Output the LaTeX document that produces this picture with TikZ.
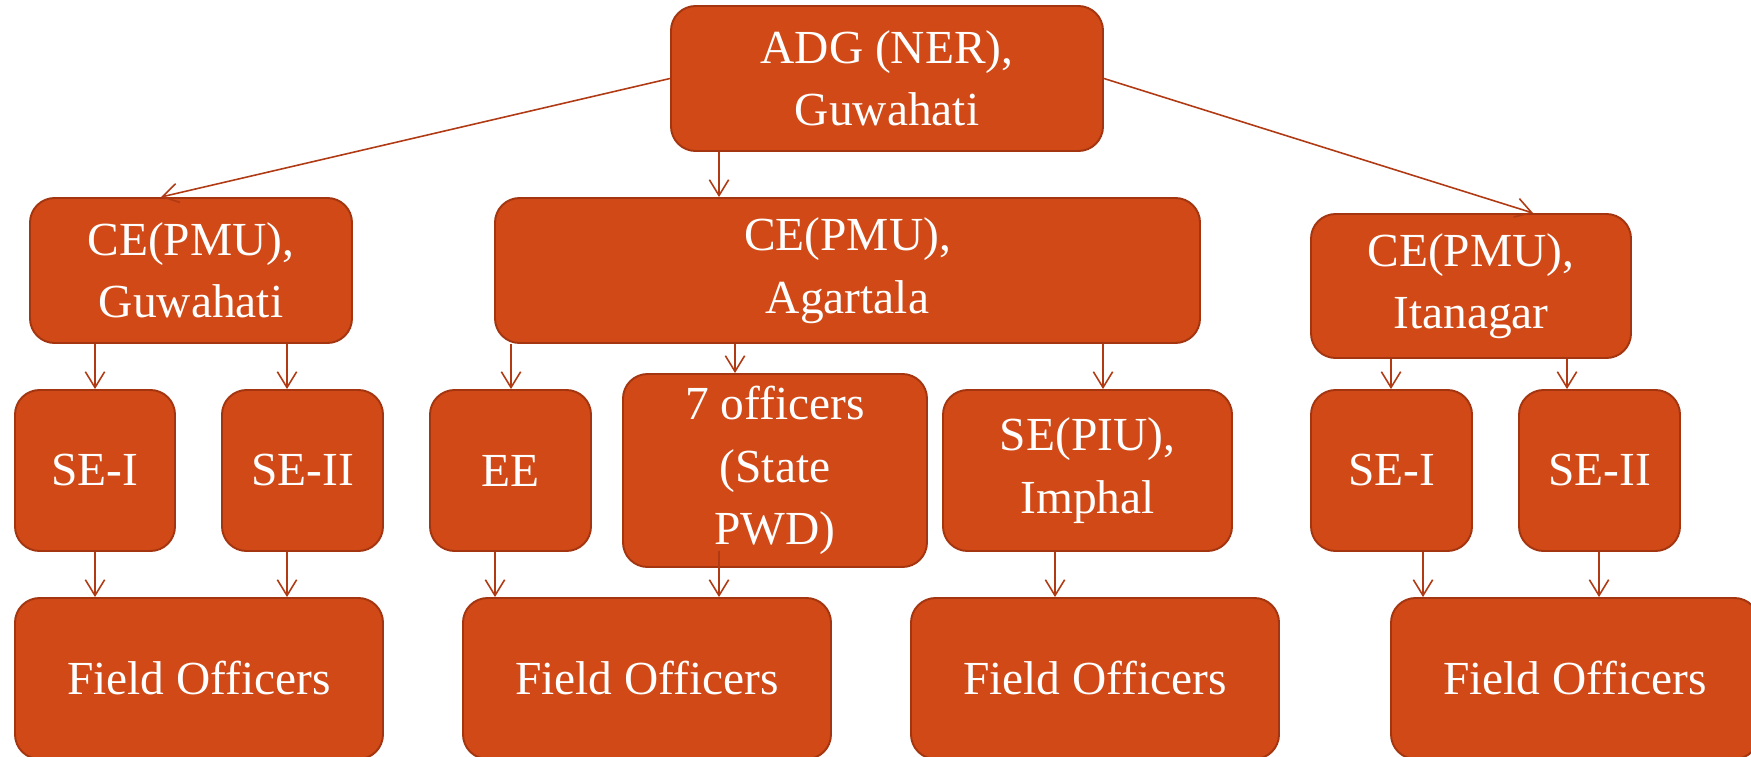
\documentclass[tikz,border=0pt]{standalone}
\usepackage{fontspec}
\setmainfont{Liberation Serif}
\usepackage{tikz}
\usetikzlibrary{arrows.meta,calc}
\definecolor{boxfill}{RGB}{209,73,23}
\definecolor{boxline}{RGB}{163,54,16}
\definecolor{arrline}{RGB}{176,58,20}
\tikzstyle{unit}=[rectangle,rounded corners=14pt,fill=boxfill,draw=boxline,line width=1.1pt,text=white,align=center,inner sep=0pt,font=\fontsize{27}{35.5}\selectfont]
\tikzstyle{arr} = [draw,arrline,line width=0.9pt,-{Straight Barb[length=9pt,width=11pt]}]

\begin{document}
\begin{tikzpicture}[x=0.02cm, y=-0.02cm]
    \useasboundingbox (0,0) rectangle (1751,757);
    \clip (0,0) rectangle (1751,757);

    \foreach \pos/\name/\w/\h/\txt in {{(887,78.5)/adg/432/145/{ADG (NER),\\Guwahati}},
    {(191,270.5)/cegw/322/145/{CE(PMU),\\Guwahati}},{(847.5,270.5)/ceag/705/145/{CE(PMU),\\Agartala}},
    {(1471,286)/ceit/320/144/{CE(PMU),\\Itanagar}},
    {(95,470.5)/sea/160/161/{SE-I}},{(302.5,470.5)/seb/161/161/{SE-II}},
    {(510.5,470.5)/ee/161/161/{EE}},{(775,470.5)/off/304/193/{7 officers\\(State\\PWD)}},
    {(1087.5,470.5)/piu/289/161/{SE(PIU),\\Imphal}},
    {(1391.5,470.5)/sec/161/161/{SE-I}},{(1599.5,470.5)/sed/161/161/{SE-II}},
    {(199,678.5)/foa/368/161/{Field Officers}},{(647,678.5)/fob/368/161/{Field Officers}},
    {(1095,678.5)/foc/368/161/{Field Officers}},{(1575,678.5)/fod/368/161/{Field Officers}}}
    {
        \pgfmathsetmacro\bw{\w*0.02}
        \pgfmathsetmacro\bh{\h*0.02}
        \node[unit,minimum width=\bw cm,minimum height=\bh cm] (\name) at \pos {\txt};
    }

    % top level
    \path[arr] (adg.west) -- (cegw.north -| 161,0);
    \path[arr] (adg.south -| 719,0) -- (ceag.north -| 719,0);
    \path[arr] (adg.east) -- (ceit.north -| 1533,0);

    \foreach \source/\dest/\xx in {cegw/sea/95,cegw/seb/287,ceag/ee/511,ceag/off/735,
    ceag/piu/1103,ceit/sec/1391,ceit/sed/1567,sea/foa/95,seb/foa/287,ee/fob/495,
    piu/foc/1055,sec/fod/1423,sed/fod/1599}
        \path[arr] (\source.south -| \xx,0) -- (\dest.north -| \xx,0);

    \path[arr] ($(off.south -| 719,0)+(0,-17)$) -- (fob.north -| 719,0);
\end{tikzpicture}
\end{document}
